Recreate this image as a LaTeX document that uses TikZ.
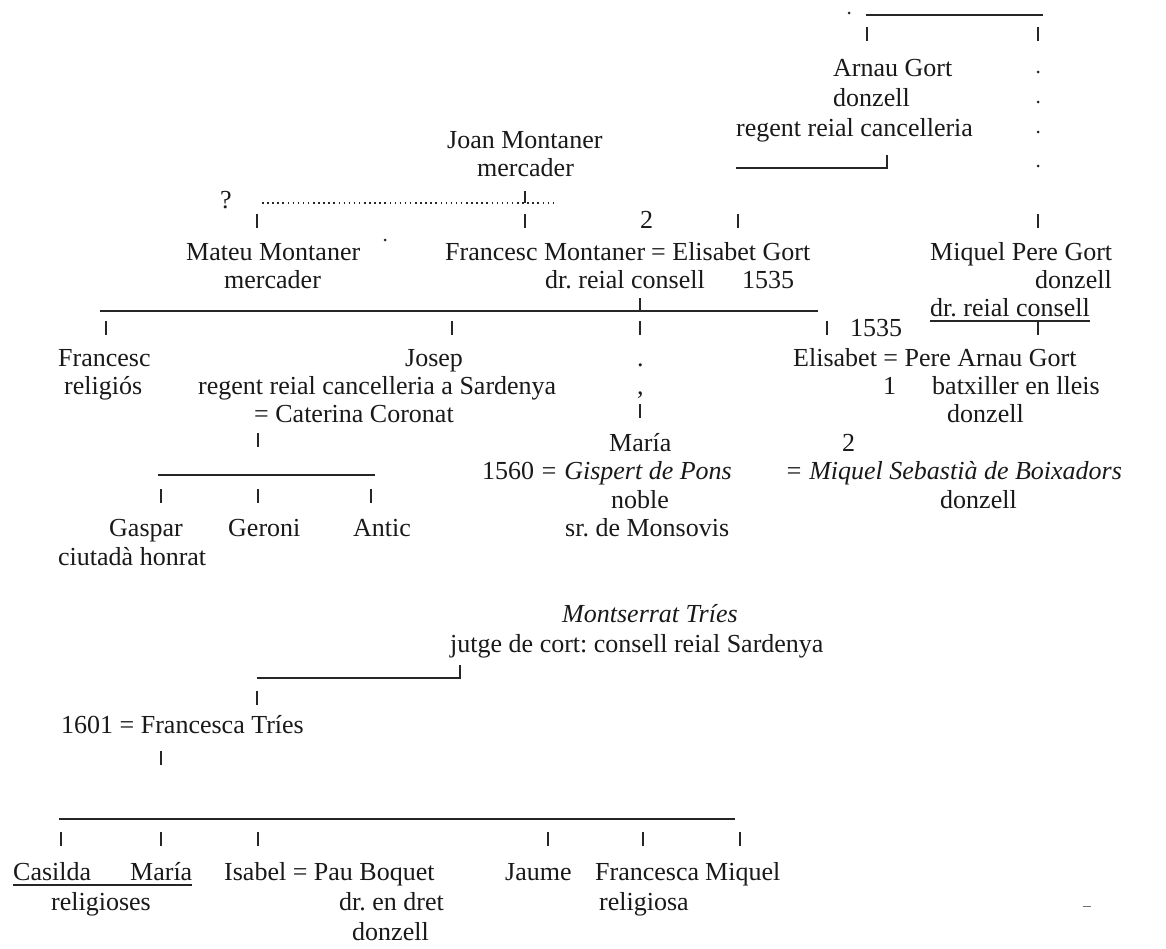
\documentclass[tikz,border=0pt]{standalone}
\usepackage{fontspec}
\setmainfont{Liberation Serif}
\frenchspacing
\begin{document}
\begin{tikzpicture}[x=1pt,y=-1pt,
  every node/.style={inner sep=0pt, anchor=base west, font=\fontsize{26}{30}\selectfont, text=black!90},
  ln/.style={line width=1.6pt, draw=black!85},
  tk/.style={line width=1.5pt, draw=black!85},
  ul/.style={line width=1.1pt, draw=black!85},
  dotln/.style={line width=1.5pt, draw=black!85, dash pattern=on 1.5pt off 3.6pt},
  it/.style={font=\fontsize{26}{30}\selectfont\itshape}]
\path[use as bounding box, fill=white] (0,0) rectangle (1166,948);

% ---------- text (x = left edge, y = baseline) ----------
\node (arnau)  at (833,76)  {Arnau Gort};
\node (arnauA) at (833,106) {donzell};
\node (arnauB) at (736,136) {regent reial cancelleria};
\node (joan)   at (447,148) {Joan Montaner};
\node (joanA)  at (477,176) {mercader};
\node (q)      at (220,208) {?};
\node (two1)   at (640,228) {2};
\node (mateu)  at (186,260) {Mateu Montaner};
\node (mateuA) at (224,288) {mercader};
\node (fmL)    at (445,260) {Francesc Montaner};
\node (fmR)    at (651,260) {= Elisabet Gort};
\node (fmA)    at (545,288) {dr. reial consell};
\node (fmB)    at (742,288) {1535};
\node (mpg)    at (930,260) {Miquel Pere Gort};
\node (mpgA)   at (1035,288) {donzell};
\node (mpgB)   at (930,316) {dr. reial consell};
\node (y1535)  at (850,336) {1535};
\node (fran)   at (58,366)  {Francesc};
\node (franA)  at (64,394)  {religiós};
\node (josep)  at (405,366) {Josep};
\node (josepA) at (198,394) {regent reial cancelleria a Sardenya};
\node (josepB) at (254,422) {= Caterina Coronat};
\node (dotA)   at (637,366) {.};
\node (dotB)   at (637,394) {,};
\node (eli)    at (793,366) {Elisabet = Pere Arnau Gort};
\node (one)    at (883,394) {1};
\node (eliA)   at (932,394) {batxiller en lleis};
\node (eliB)   at (947,422) {donzell};
\node (maria)  at (609,451) {María};
\node (two2)   at (842,451) {2};
\node (y1560)  at (482,479) {1560};
\node[it] (gis)  at (540,479) {= Gispert de Pons};
\node[it] (eliC) at (785,479) {= Miquel Sebastià de Boixadors};
\node (gisA)   at (611,508) {noble};
\node (eliD)   at (940,508) {donzell};
\node (gaspar) at (109,536) {Gaspar};
\node (geroni) at (228,536) {Geroni};
\node (antic)  at (353,536) {Antic};
\node (gisB)   at (565,536) {sr. de Monsovis};
\node (gasparA) at (58,565) {ciutadà honrat};
\node[it] (mont) at (562,622) {Montserrat Tríes};
\node (montA)  at (450,652) {jutge de cort: consell reial Sardenya};
\node (ft)     at (61,733)  {1601 = Francesca Tríes};
\node (casilda) at (13,880) {Casilda};
\node (maria2) at (130,880) {María};
\node (isabel) at (224,880) {Isabel = Pau Boquet};
\node (jaume)  at (505,880) {Jaume};
\node (fca)    at (595,880) {Francesca};
\node (miquel) at (705,880) {Miquel};
\node (relA)   at (51,910)  {religioses};
\node (isabelA) at (339,910) {dr. en dret};
\node (fcaA)   at (599,910) {religiosa};
\node (isabelB) at (352,940) {donzell};

% ---------- horizontal lines ----------
\coordinate (t1) at (866,15); \coordinate (t2) at (1043,15);
\draw[ln] (t1) -- (t2);
\coordinate (g1) at (736,168); \coordinate (g2) at (887,168); \coordinate (g3) at (887,155);
\draw[ln] (g1) -- (g2) -- (g3);
\coordinate (d1) at (262,203); \coordinate (d2) at (555,203);
\draw[dotln] (d1) -- (d2);
\coordinate (d3) at (525,203); \coordinate (d4) at (525,191);
\draw[tk] (d3) -- (d4);
\coordinate (b1) at (100,311); \coordinate (b2) at (818,311);
\coordinate (b3) at (640,311); \coordinate (b4) at (640,298);
\draw[ln] (b1) -- (b2); \draw[tk] (b3) -- (b4);
\draw[ul] ([yshift=-5pt]mpgB.base west) -- ([yshift=-5pt]mpgB.base east);
\coordinate (c1) at (158,475); \coordinate (c2) at (375,475);
\draw[ln] (c1) -- (c2);
\coordinate (m1) at (257,678); \coordinate (m2) at (460,678); \coordinate (m3) at (460,665);
\draw[ln] (m1) -- (m2) -- (m3);
\coordinate (k1) at (59,819); \coordinate (k2) at (735,819);
\draw[ln] (k1) -- (k2);
\draw[ul] ([yshift=-5pt]casilda.base west) -- ([yshift=-5pt]maria2.base east);

% ---------- ticks ----------
\foreach \n/\x/\y in {ta/867/27, tb/1038/27,
  sa/257/214, sb/525/214, sc/738/214, sd/1038/214,
  ra/106/321, rb/452/321, rc/640/321, rd/827/321, re/1038/321,
  pa/640/404, pb/258/433,
  qa/161/489, qb/258/489, qc/371/489,
  wa/257/691, wb/161/751,
  va/61/832, vb/161/832, vc/258/832, vd/548/832, ve/643/832, vf/740/832}{
  \coordinate (\n1) at (\x,\y); \coordinate (\n2) at (\x,\y+14);
  \draw[tk] (\n1) -- (\n2);
}

% ---------- dots and specks ----------
\foreach \x/\y in {849/13, 1038/72, 1038/102, 1038/132, 1038/166, 385/240}{
  \fill[black!85] (\x,\y) circle[radius=1.5pt];
}
\coordinate (z1) at (1083,906); \coordinate (z2) at (1091,906);
\draw[line width=0.8pt, draw=black!55] (z1) -- (z2);
\end{tikzpicture}
\end{document}
